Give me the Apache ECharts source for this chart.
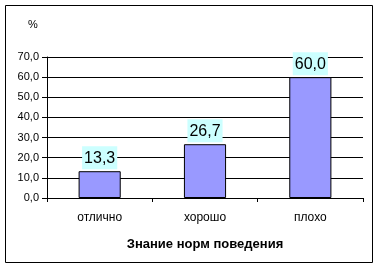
<!DOCTYPE html>
<html><head><meta charset="utf-8">
<script src="https://cdn.jsdelivr.net/npm/echarts@6/dist/echarts.min.js"></script>
<style>html,body{margin:0;padding:0;background:#fff}#c{width:379px;height:269px}</style>
</head><body><div id="c"></div>
<script>
var categories = ['отлично', 'хорошо', 'плохо'];
var values = [13.3, 26.7, 60.0];
var yTicks = [0, 10, 20, 30, 40, 50, 60, 70];
var axisTitle = 'Знание норм поведения';
var unitLabel = '%';

function fmt(v){ return Number(v).toFixed(1).replace('.', ','); }

var chart = echarts.init(document.getElementById('c'), null, {renderer:'canvas'});
chart.setOption({
  animation: false,
  backgroundColor: '#fff',
  textStyle: {fontFamily: 'Liberation Sans, Arial, sans-serif'},
  title: {text: unitLabel, left: 23, top: 14, textStyle: {fontSize: 11, fontWeight: 'normal', color: '#000', fontFamily: 'Liberation Sans, Arial'}},
  graphic: [{type: 'rect', shape: {x: 5.5, y: 5.5, width: 367, height: 257}, style: {fill: 'none', stroke: '#000', lineWidth: 1}, z: -1}],
  grid: {left: 47, top: 57, right: 16, bottom: 71},
  xAxis: {
    type: 'category', data: categories,
    axisLine: {lineStyle: {color: '#000', width: 1}},
    axisTick: {show: true, alignWithLabel: false, length: 4, lineStyle: {color: '#000'}},
    axisLabel: {color: '#000', fontSize: 12, margin: 14, fontFamily: 'Liberation Sans, Arial'},
    name: axisTitle, nameLocation: 'middle', nameGap: 40,
    nameTextStyle: {color: '#000', fontSize: 13, fontWeight: 'bold', fontFamily: 'Liberation Sans, Arial'}
  },
  yAxis: {
    type: 'value', min: yTicks[0], max: yTicks[yTicks.length-1], interval: 10,
    axisLine: {show: true, lineStyle: {color: '#000', width: 1}},
    axisTick: {show: true, length: 5, lineStyle: {color: '#000'}},
    axisLabel: {color: '#000', fontSize: 11, margin: 8, formatter: fmt, fontFamily: 'Liberation Sans, Arial'},
    splitLine: {show: true, lineStyle: {color: '#000', width: 1}}
  },
  series: [{
    type: 'bar', data: values, barWidth: '40%',
    itemStyle: {color: '#9999ff', borderColor: '#000', borderWidth: 1},
    label: {show: true, position: 'top', distance: 2, formatter: function(p){return fmt(p.value);},
      color: '#000', fontSize: 16, backgroundColor: '#ccffff', padding: [4, 2, 3, 2],
      fontFamily: 'Liberation Sans, Arial'}
  }]
});
</script></body></html>
